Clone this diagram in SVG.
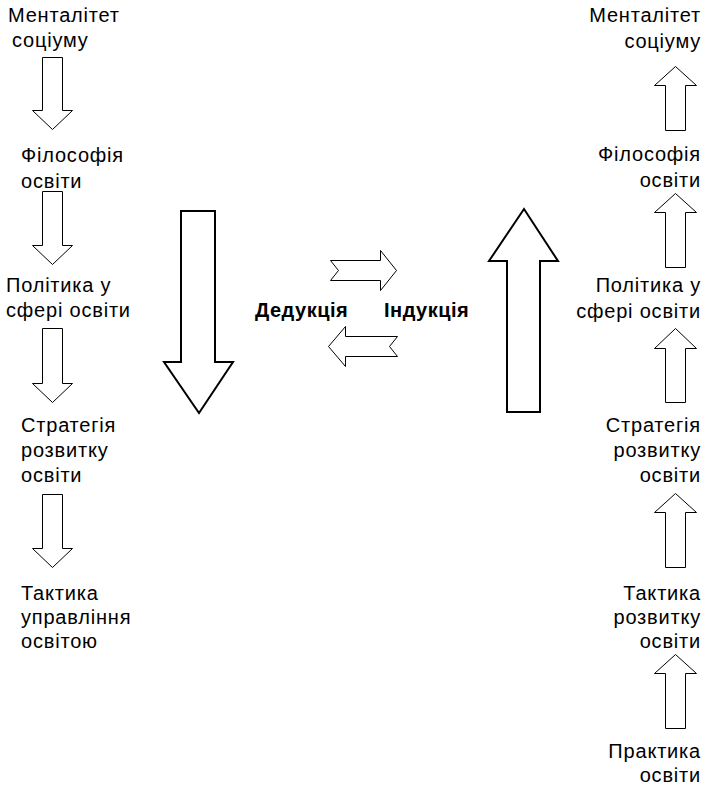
<svg xmlns="http://www.w3.org/2000/svg" width="707" height="787" viewBox="0 0 707 787">
<style>
.t{font-family:"Liberation Sans",Arial,sans-serif;font-size:20px;letter-spacing:0.8px;fill:#000}
.r{text-anchor:end}
.b{font-family:"Liberation Sans",Arial,sans-serif;font-size:20px;font-weight:bold;letter-spacing:0.5px;fill:#000}
.a{fill:#fff;stroke:#000;stroke-width:1;stroke-linejoin:miter}
.A{fill:#fff;stroke:#000;stroke-width:2;stroke-linejoin:miter}
</style>
<rect width="707" height="787" fill="#fff"/>
<g id="left-nodes">
<g id="l1"><text class="t" x="8" y="22">Менталітет</text><text class="t" x="12" y="47">соціуму</text></g>
<g id="l2"><text class="t" x="21" y="162">Філософія</text><text class="t" x="21" y="188">освіти</text></g>
<g id="l3"><text class="t" x="6" y="292">Політика у</text><text class="t" x="6" y="317">сфері освіти</text></g>
<g id="l4"><text class="t" x="21" y="432">Стратегія</text><text class="t" x="21" y="457">розвитку</text><text class="t" x="21" y="482">освіти</text></g>
<g id="l5"><text class="t" x="21" y="600">Тактика</text><text class="t" x="21" y="624">управління</text><text class="t" x="21" y="648">освітою</text></g>
</g>
<g id="right-nodes">
<g id="r1"><text class="t r" x="701" y="22">Менталітет</text><text class="t r" x="701" y="48">соціуму</text></g>
<g id="r2"><text class="t r" x="701" y="161">Філософія</text><text class="t r" x="701" y="187">освіти</text></g>
<g id="r3"><text class="t r" x="701" y="292">Політика у</text><text class="t r" x="701" y="318">сфері освіти</text></g>
<g id="r4"><text class="t r" x="701" y="432">Стратегія</text><text class="t r" x="701" y="457">розвитку</text><text class="t r" x="701" y="482">освіти</text></g>
<g id="r5"><text class="t r" x="701" y="600">Тактика</text><text class="t r" x="701" y="624">розвитку</text><text class="t r" x="701" y="648">освіти</text></g>
<g id="r6"><text class="t r" x="701" y="758">Практика</text><text class="t r" x="701" y="782">освіти</text></g>
</g>
<g id="center-labels">
<g id="deduction"><text class="b" x="255" y="317">Дедукція</text></g>
<g id="induction"><text class="b" x="384" y="317">Індукція</text></g>
</g>
<g id="connectors">
<path class="a" d="M42.5,57.5 H62.5 V110.5 H72.5 L52.5,129.5 L32.5,110.5 H42.5 Z"/>
<path class="a" d="M42.5,191.5 H62.5 V245.5 H72.5 L52.5,264.5 L32.5,245.5 H42.5 Z"/>
<path class="a" d="M42.5,328.5 H62.5 V383.5 H72.5 L52.5,402.5 L32.5,383.5 H42.5 Z"/>
<path class="a" d="M42.5,494.5 H62.5 V548.5 H72.5 L52.5,567.5 L32.5,548.5 H42.5 Z"/>
<path class="a" d="M665.5,130.5 H685.5 V85.5 H696.5 L675.5,66.5 L654.5,85.5 H665.5 Z"/>
<path class="a" d="M665.5,267.5 H685.5 V212.5 H696.5 L675.5,193.5 L654.5,212.5 H665.5 Z"/>
<path class="a" d="M665.5,402.5 H685.5 V348.5 H696.5 L675.5,328.5 L654.5,348.5 H665.5 Z"/>
<path class="a" d="M665.5,567.5 H685.5 V512.5 H696.5 L675.5,493.5 L654.5,512.5 H665.5 Z"/>
<path class="a" d="M665.5,728.5 H685.5 V673.5 H696.5 L675.5,654.5 L654.5,673.5 H665.5 Z"/>
<path class="A" d="M181,211 H215 V362 H233 L199,413 L164,362 H181 Z"/>
<path class="A" d="M507,412 H540 V261 H558 L524,209 L489,261 H507 Z"/>
<path class="a" d="M330.5,260.5 H380.5 V250.5 L396.5,270.5 L380.5,290.5 V280.5 H330.5 L338.5,270.5 Z"/>
<path class="a" d="M397.5,336.5 H345.5 V326.5 L328.5,346.5 L345.5,366.5 V356.5 H397.5 L389.5,346.5 Z"/>
</g>
</svg>
